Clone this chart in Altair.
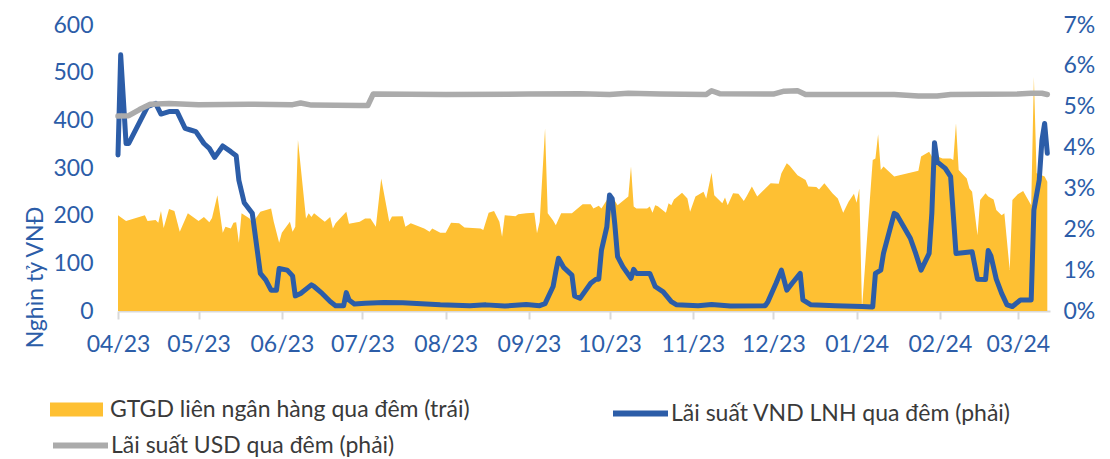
import altair as alt
import pandas as pd

# ---------------- data ----------------
AREA_NAME = "GTGD liên ngân hàng qua đêm (trái)"
VND_NAME = "Lãi suất VND LNH qua đêm (phải)"
USD_NAME = "Lãi suất USD qua đêm (phải)"

area_dates = [
    "2023-04-01", "2023-04-04", "2023-04-11", "2023-04-12", "2023-04-15", "2023-04-16", "2023-04-17",
    "2023-04-18", "2023-04-20", "2023-04-22", "2023-04-24", "2023-04-27", "2023-05-01", "2023-05-03",
    "2023-05-05", "2023-05-06", "2023-05-08", "2023-05-10", "2023-05-11", "2023-05-13", "2023-05-14",
    "2023-05-15", "2023-05-16", "2023-05-17", "2023-05-20", "2023-05-21", "2023-05-24", "2023-05-28",
    "2023-05-29", "2023-05-31", "2023-06-01", "2023-06-04", "2023-06-05", "2023-06-06", "2023-06-07",
    "2023-06-10", "2023-06-11", "2023-06-12", "2023-06-13", "2023-06-17", "2023-06-19", "2023-06-20",
    "2023-06-21", "2023-06-25", "2023-06-26", "2023-06-28", "2023-06-30", "2023-07-02", "2023-07-04",
    "2023-07-06", "2023-07-08", "2023-07-11", "2023-07-12", "2023-07-16", "2023-07-17", "2023-07-19",
    "2023-07-24", "2023-07-26", "2023-07-27", "2023-07-30", "2023-08-01", "2023-08-03", "2023-08-06",
    "2023-08-08", "2023-08-14", "2023-08-15", "2023-08-17", "2023-08-19", "2023-08-21", "2023-08-22",
    "2023-08-23", "2023-08-27", "2023-08-28", "2023-08-31", "2023-09-03", "2023-09-04", "2023-09-05",
    "2023-09-07", "2023-09-08", "2023-09-10", "2023-09-11", "2023-09-13", "2023-09-17", "2023-09-21",
    "2023-09-24", "2023-09-25", "2023-09-27", "2023-09-28", "2023-09-30", "2023-10-02", "2023-10-04",
    "2023-10-08", "2023-10-09", "2023-10-10", "2023-10-11", "2023-10-15", "2023-10-16", "2023-10-17",
    "2023-10-18", "2023-10-19", "2023-10-22", "2023-10-23", "2023-10-24", "2023-10-25", "2023-10-28",
    "2023-10-30", "2023-10-31", "2023-11-02", "2023-11-05", "2023-11-06", "2023-11-08", "2023-11-09",
    "2023-11-12", "2023-11-13", "2023-11-14", "2023-11-16", "2023-11-18", "2023-11-20", "2023-11-21",
    "2023-11-23", "2023-11-25", "2023-11-28", "2023-11-30", "2023-12-03", "2023-12-04", "2023-12-06",
    "2023-12-07", "2023-12-10", "2023-12-13", "2023-12-14", "2023-12-17", "2023-12-18", "2023-12-20",
    "2023-12-23", "2023-12-25", "2023-12-27", "2023-12-29", "2023-12-31", "2024-01-01", "2024-01-02",
    "2024-01-03", "2024-01-07", "2024-01-08", "2024-01-09", "2024-01-10", "2024-01-11", "2024-01-15",
    "2024-01-24", "2024-01-25", "2024-01-28", "2024-01-29", "2024-01-30", "2024-02-02", "2024-02-05",
    "2024-02-06", "2024-02-07", "2024-02-08", "2024-02-11", "2024-02-12", "2024-02-13", "2024-02-15",
    "2024-02-16", "2024-02-18", "2024-02-19", "2024-02-21", "2024-02-22", "2024-02-24", "2024-02-25",
    "2024-02-27", "2024-02-28", "2024-03-01", "2024-03-03", "2024-03-06", "2024-03-07", "2024-03-08",
    "2024-03-11", "2024-03-12",
]
area_values = [
    201, 189, 201, 189, 191, 185, 210,
    174, 214, 210, 166, 205, 189, 197,
    186, 195, 243, 164, 177, 173, 185,
    186, 143, 205, 194, 184, 208, 215,
    187, 143, 164, 187, 166, 177, 359,
    194, 205, 197, 205, 187, 197, 173,
    184, 208, 183, 185, 187, 194, 194,
    177, 278, 187, 198, 199, 177, 184,
    173, 166, 173, 164, 164, 185, 184,
    175, 173, 170, 206, 210, 187, 156,
    201, 199, 203, 205, 206, 163, 187,
    383, 205, 190, 180, 205, 205, 224,
    224, 215, 221, 215, 233, 240, 222,
    240, 303, 219, 215, 215, 219, 206,
    222, 220, 206, 226, 222, 234, 248,
    236, 208, 240, 250, 236, 290, 243,
    226, 238, 222, 247, 246, 231, 240,
    261, 240, 257, 268, 267, 289, 310,
    305, 285, 275, 261, 260, 255, 268,
    247, 236, 206, 229, 246, 227, 257,
    5, 317, 320, 371, 296, 303, 282,
    294, 324, 334, 324, 327, 320, 320,
    317, 394, 296, 278, 257, 250, 159,
    233, 247, 240, 234, 212, 201, 205,
    86, 233, 245, 252, 222, 491, 289,
    282, 271,
]

vnd_dates = [
    "2023-04-01", "2023-04-02", "2023-04-04", "2023-04-05", "2023-04-12", "2023-04-15", "2023-04-17",
    "2023-04-20", "2023-04-23", "2023-04-26", "2023-04-28", "2023-04-30", "2023-05-03", "2023-05-05",
    "2023-05-07", "2023-05-10", "2023-05-13", "2023-05-15", "2023-05-16", "2023-05-18", "2023-05-21",
    "2023-05-24", "2023-05-26", "2023-05-28", "2023-05-30", "2023-05-31", "2023-06-03", "2023-06-05",
    "2023-06-06", "2023-06-08", "2023-06-12", "2023-06-13", "2023-06-16", "2023-06-19", "2023-06-21",
    "2023-06-24", "2023-06-25", "2023-06-26", "2023-06-28", "2023-07-02", "2023-07-09", "2023-07-16",
    "2023-07-30", "2023-08-10", "2023-08-16", "2023-08-23", "2023-08-31", "2023-09-05", "2023-09-07",
    "2023-09-10", "2023-09-11", "2023-09-12", "2023-09-14", "2023-09-17", "2023-09-18", "2023-09-20",
    "2023-09-24", "2023-09-26", "2023-09-27", "2023-09-28", "2023-09-30", "2023-10-01", "2023-10-02",
    "2023-10-03", "2023-10-04", "2023-10-06", "2023-10-09", "2023-10-10", "2023-10-11", "2023-10-16",
    "2023-10-18", "2023-10-21", "2023-10-24", "2023-10-26", "2023-11-03", "2023-11-08", "2023-11-15",
    "2023-11-28", "2023-11-29", "2023-12-02", "2023-12-04", "2023-12-06", "2023-12-08", "2023-12-11",
    "2023-12-12", "2023-12-15", "2023-12-24", "2024-01-03", "2024-01-07", "2024-01-08", "2024-01-10",
    "2024-01-11", "2024-01-15", "2024-01-16", "2024-01-21", "2024-01-23", "2024-01-25", "2024-01-28",
    "2024-01-29", "2024-01-30", "2024-01-31", "2024-02-03", "2024-02-05", "2024-02-07", "2024-02-13",
    "2024-02-15", "2024-02-18", "2024-02-19", "2024-02-20", "2024-02-22", "2024-02-24", "2024-02-26",
    "2024-02-28", "2024-03-02", "2024-03-06", "2024-03-07", "2024-03-09", "2024-03-10", "2024-03-11",
    "2024-03-12",
]
vnd_values = [
    3.82, 6.27, 4.10, 4.10, 5.00, 5.08, 4.82,
    4.88, 4.88, 4.47, 4.43, 4.39, 4.10, 3.98,
    3.76, 4.04, 3.90, 3.80, 3.20, 2.65, 2.39,
    0.92, 0.76, 0.51, 0.51, 1.04, 1.00, 0.86,
    0.37, 0.43, 0.64, 0.60, 0.43, 0.23, 0.13,
    0.13, 0.45, 0.27, 0.17, 0.19, 0.21, 0.20,
    0.15, 0.13, 0.15, 0.12, 0.16, 0.13, 0.18,
    0.60, 0.96, 1.29, 1.06, 0.88, 0.37, 0.31,
    0.68, 0.78, 0.78, 1.49, 2.06, 2.84, 2.75,
    2.10, 1.33, 1.08, 0.80, 1.02, 0.92, 0.92,
    0.60, 0.47, 0.23, 0.15, 0.13, 0.16, 0.12,
    0.13, 0.23, 0.68, 1.00, 0.51, 0.68, 0.92,
    0.27, 0.15, 0.13, 0.11, 0.10, 0.92, 1.00,
    1.41, 2.39, 2.35, 1.78, 1.41, 1.00, 1.41,
    2.39, 4.12, 3.65, 3.49, 3.29, 1.41, 1.45,
    0.78, 0.77, 1.48, 1.35, 0.78, 0.43, 0.15,
    0.11, 0.27, 0.27, 2.47, 3.21, 4.18, 4.59,
    3.86,
]

usd_dates = [
    "2023-04-01", "2023-04-05", "2023-04-09", "2023-04-13", "2023-04-20", "2023-05-01", "2023-05-20",
    "2023-06-05", "2023-06-08", "2023-06-12", "2023-06-30", "2023-07-03", "2023-07-05", "2023-08-01",
    "2023-09-01", "2023-09-20", "2023-10-01", "2023-10-08", "2023-10-20", "2023-11-06", "2023-11-08",
    "2023-11-11", "2023-12-01", "2023-12-05", "2023-12-10", "2023-12-13", "2024-01-15", "2024-01-24",
    "2024-01-31", "2024-02-05", "2024-03-01", "2024-03-06", "2024-03-10", "2024-03-12",
]
usd_values = [
    4.77, 4.78, 4.93, 5.06, 5.08, 5.05, 5.06,
    5.05, 5.09, 5.04, 5.03, 5.03, 5.31, 5.30,
    5.31, 5.32, 5.30, 5.33, 5.31, 5.30, 5.39,
    5.32, 5.31, 5.38, 5.39, 5.30, 5.30, 5.26,
    5.26, 5.30, 5.31, 5.33, 5.33, 5.30,
]

left_ticks = [0, 100, 200, 300, 400, 500, 600]
right_ticks = [0, 1, 2, 3, 4, 5, 6, 7]
month_ticks = [(2023, m) for m in range(4, 13)] + [(2024, m) for m in range(1, 4)]

# ---------------- style ----------------
GOLD = "#FEC033"
BLUE = "#2C5DA8"
GRAY = "#ABABAB"
TEXT = "#3A3A3A"
FONT = "Lato"
FS = 23

df_area = pd.DataFrame({"date": area_dates, "value": area_values, "series": AREA_NAME})
df_vnd = pd.DataFrame({"date": vnd_dates, "value": vnd_values, "series": VND_NAME})
df_usd = pd.DataFrame({"date": usd_dates, "value": usd_values, "series": USD_NAME})

x_scale = alt.Scale(
    type="utc",
    domain=[alt.DateTime(year=2023, month=4, date=1, utc=True),
            alt.DateTime(year=2024, month=3, date=13, utc=True)],
)
x_axis = alt.Axis(
    values=[alt.DateTime(year=y, month=m, date=1, utc=True) for y, m in month_ticks],
    format="%m/%y",
    domainColor="#D9D9D9", domainWidth=2,
    tickColor="#D9D9D9", tickWidth=2, tickSize=8,
    labelColor=BLUE, labelFont=FONT, labelFontSize=FS, labelPadding=14,
    labelFlush=False, labelOverlap=False, grid=False, title=None,
)
x_enc = alt.X("date:T", scale=x_scale, axis=x_axis)


def legend(x, y, shape, size, stroke_w, offset):
    return alt.Legend(
        orient="none", legendX=x, legendY=y, title=None, padding=0,
        symbolType=shape, symbolSize=size, symbolStrokeWidth=stroke_w,
        labelFont=FONT, labelFontSize=FS, labelColor=TEXT, labelOffset=offset,
        labelLimit=600,
    )


area = alt.Chart(df_area).mark_area(opacity=1, interpolate="linear").encode(
    x=x_enc,
    y=alt.Y("value:Q", scale=alt.Scale(domain=[0, 600]),
            axis=alt.Axis(values=left_ticks, domain=False, ticks=False, grid=False,
                          labelColor=BLUE, labelFont=FONT, labelFontSize=FS, labelPadding=25,
                          title="Nghìn tỷ VNĐ", titleColor=BLUE, titleFont=FONT,
                          titleFontSize=FS, titleFontWeight="normal",
                          titleX=-83, titleY=252, titleAngle=270,
                          titleAlign="center", titleBaseline="middle")),
    fill=alt.Fill("series:N", scale=alt.Scale(domain=[AREA_NAME], range=[GOLD]),
                  legend=legend(-68, 358, "M-1,-0.26H1V0.26H-1Z", 2809, 0, 7)),
)

vnd = alt.Chart(df_vnd).mark_line(strokeWidth=5, strokeJoin="round", strokeCap="round").encode(
    x=x_enc,
    y=alt.Y("value:Q", scale=alt.Scale(domain=[0, 7]),
            axis=alt.Axis(orient="right", values=right_ticks, labelExpr="datum.value + '%'",
                          domain=False, ticks=False, grid=False,
                          labelColor=BLUE, labelFont=FONT, labelFontSize=FS, labelPadding=13,
                          title=None)),
    color=alt.Color("series:N", scale=alt.Scale(domain=[VND_NAME], range=[BLUE]),
                    legend=legend(492, 358, "stroke", 3025, 6, 0)),
)

usd = alt.Chart(df_usd).mark_line(strokeWidth=5.5, strokeJoin="round", strokeCap="round").encode(
    x=x_enc,
    y=alt.Y("value:Q", scale=alt.Scale(domain=[0, 7]), axis=None),
    stroke=alt.Stroke("series:N", scale=alt.Scale(domain=[USD_NAME], range=[GRAY]),
                      legend=legend(-68, 390, "stroke", 3025, 6, 0)),
)

chart = (
    alt.layer(area, vnd, usd)
    .resolve_scale(y="independent")
    .properties(width=932, height=286, autosize="none",
                padding={"left": 110, "top": 17, "right": 52, "bottom": 148})
    .configure(font=FONT)
    .configure_view(strokeWidth=0)
)

chart.save("out.html", embed_options={"renderer": "svg", "actions": False})
